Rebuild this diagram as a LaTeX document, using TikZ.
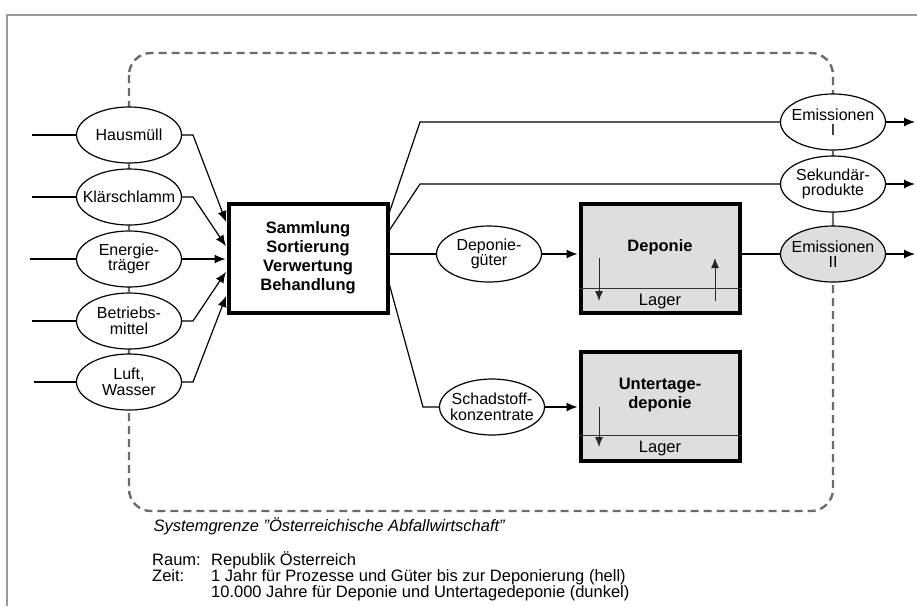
\documentclass[tikz,border=0pt]{standalone}
\usepackage{fontspec}
\setmainfont{Liberation Sans}
\usetikzlibrary{shapes.geometric,arrows.meta}

\definecolor{lagergrau}{gray}{0.87}
\definecolor{grenzgrau}{gray}{0.42}
\definecolor{rahmengrau}{gray}{0.6}

\tikzset{
  gut/.style={ellipse, draw, fill=white, line width=1.2pt,
    minimum width=105pt, minimum height=56pt, inner xsep=-20pt, inner ysep=-8pt,
    align=center, font=\fontsize{16}{15.5}\selectfont},
  prozess/.style={draw, line width=4pt, minimum width=159pt, minimum height=109pt,
    align=center, font=\fontsize{16.5}{19}\selectfont\bfseries},
  lager/.style={prozess, fill=lagergrau},
  fluss/.style={line width=1.2pt},
  pfeil/.style={fluss, -{Latex[length=11pt,width=9pt]}, shorten >=1pt},
  lagerpfeil/.style={line width=1pt, gray!30!black, -{Latex[length=10pt,width=8pt]}},
  grenze/.style={draw=grenzgrau, line width=2.4pt, dash pattern=on 8pt off 5pt, rounded corners=22pt},
  grenzstueck/.style={draw=grenzgrau, line width=1.5pt},
}

\begin{document}
\begin{tikzpicture}[x=1pt, y=-1pt, font=\fontsize{16.5}{15}\selectfont]
\useasboundingbox (0,0) rectangle (917,606);
\draw[rahmengrau, line width=1.5pt] (7,606) -- (7,15) -- (917,15);
% Systemgrenze
\draw[grenze] (129,53) rectangle (833,511);

% Inputs
\node[gut] (haus) at (129,135) {Hausmüll};
\node[gut] (klaer) at (129,197) {Klärschlamm};
\node[gut] (energie) at (129,259) {Energie-\\träger};
\node[gut] (betrieb) at (129,321) {Betriebs-\\mittel};
\node[gut] (luft) at (129,382) {Luft,\\Wasser};
\coordinate (in1) at (32,135);
\coordinate (in2) at (32,197);
\coordinate (in3) at (30,259);
\coordinate (in4) at (32,321);
\coordinate (in5) at (34,382);
\coordinate (b1) at (193,135);
\coordinate (b2) at (193,197);
\coordinate (b4) at (193,321);
\coordinate (b5) at (193,382);

% Prozesse
\node[prozess] (sam) at (308,258) {Sammlung\\Sortierung\\Verwertung\\Behandlung};
\node[lager] (dep) at (660,258) {};
\node[lager] (utd) at (660,406) {};
\node[font=\fontsize{16.5}{19}\selectfont\bfseries] (deptxt) at (660,247) {Deponie};
\node (deplager) at (660,302) {Lager};
\node[font=\fontsize{16.5}{19}\selectfont\bfseries, align=center] (utdtxt) at (660,395) {Untertage-\\deponie};
\node (utdlager) at (660,449) {Lager};
\draw[gray!40!black, line width=1pt] (dep.west |- 0,288) -- (dep.east |- 0,288);
\draw[gray!40!black, line width=1pt] (utd.west |- 0,435) -- (utd.east |- 0,435);
\coordinate (d1) at (599,258);
\coordinate (d2) at (599,301);
\coordinate (d3) at (715,301);
\coordinate (d4) at (715,258);
\coordinate (u1) at (599,407);
\coordinate (u2) at (599,447);
\draw[lagerpfeil] (d1) -- (d2);
\draw[lagerpfeil] (d3) -- (d4);
\draw[lagerpfeil] (u1) -- (u2);

% Outputs
\node[gut] (depgut) at (489,254) {Deponie-\\güter};
\node[gut] (schad) at (492,407) {Schadstoff-\\konzentrate};
\node[gut] (emi1) at (833,122) {Emissionen\\I};
\node[gut] (sek) at (833,184) {Sekundär-\\produkte};
\node[gut, fill=lagergrau] (emi2) at (833,254) {Emissionen\\II};
\coordinate (k1) at (420,122);
\coordinate (k2) at (420,184);
\coordinate (k3) at (423,407);
\coordinate (out1) at (916,122);
\coordinate (out2) at (916,184);
\coordinate (out3) at (916,254);

\draw[grenzstueck] (haus.south) -- (klaer.north);
\draw[grenzstueck] (klaer.south) -- (energie.north);
\draw[grenzstueck] (energie.south) -- (betrieb.north);
\draw[grenzstueck] (betrieb.south) -- (luft.north);
\draw[grenzstueck] (emi1.south) -- (sek.north);
\draw[grenzstueck] (sek.south) -- (emi2.north);

\draw[fluss] (in1) -- (haus.west);
\draw[fluss] (in2) -- (klaer.west);
\draw[fluss] (in3) -- (energie.west);
\draw[fluss] (in4) -- (betrieb.west);
\draw[fluss] (in5) -- (luft.west);
\draw[pfeil] (haus.east) -- (b1) -- ([yshift=35pt]sam.west);
\draw[pfeil] (klaer.east) -- (b2) -- ([yshift=11pt]sam.west);
\draw[pfeil] (energie.east) -- (sam.west |- energie);
\draw[pfeil] (betrieb.east) -- (b4) -- ([yshift=-13pt]sam.west);
\draw[pfeil] (luft.east) -- (b5) -- ([yshift=-37pt]sam.west);

\draw[fluss] ([yshift=46pt]sam.east) -- (k1) -- (emi1.west);
\draw[fluss] ([yshift=28pt]sam.east) -- (k2) -- (sek.west);
\draw[fluss] (sam.east |- depgut) -- (depgut.west);
\draw[fluss] ([yshift=-27pt]sam.east) -- (k3) -- (schad.west);
\draw[pfeil] (depgut.east) -- (dep.west |- depgut);
\draw[pfeil] (schad.east) -- (utd.west |- schad);
\draw[fluss] (dep.east |- emi2) -- (emi2.west);
\draw[pfeil] (emi1.east) -- (out1);
\draw[pfeil] (sek.east) -- (out2);
\draw[pfeil] (emi2.east) -- (out3);

% Legende
\node[anchor=base west, font=\fontsize{16.5}{15}\selectfont\itshape] (sysname) at (150,531)
  {Systemgrenze "Österreichische Abfallwirtschaft"};
\node[anchor=north west, align=left, inner sep=0pt] (legende) at (152,551)
  {\makebox[59pt][l]{Raum:}Republik Österreich\\
   \makebox[59pt][l]{Zeit:}1 Jahr für Prozesse und Güter bis zur Deponierung (hell)\\
   \hspace*{59pt}10.000 Jahre für Deponie und Untertagedeponie (dunkel)};
\end{tikzpicture}
\end{document}
